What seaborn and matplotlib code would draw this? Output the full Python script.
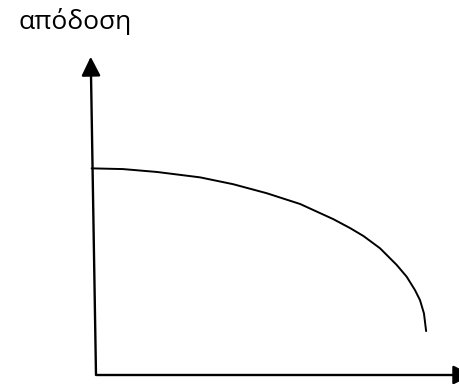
import matplotlib
matplotlib.use("Agg")
import matplotlib.pyplot as plt
import seaborn as sns
import pandas as pd

# Curve (schematic): performance vs. x, in arbitrary units
curve_x = [-0.12, 0.75, 1.69, 2.89, 3.81, 4.74, 5.67, 6.59, 7.06, 7.43, 7.89, 8.35, 8.63, 8.86, 9.00, 9.11, 9.17]
curve_y = [5.74, 5.72, 5.64, 5.49, 5.30, 5.05, 4.75, 4.33, 4.08, 3.86, 3.52, 3.06, 2.73, 2.36, 2.08, 1.71, 1.22]
y_label = "απόδοση"

sns.set_style("white")
plt.rcParams['font.family'] = ['Open Sans', 'DejaVu Sans']

fig = plt.figure(figsize=(4.6, 3.84), dpi=100)
ax = fig.add_axes([0, 0, 1, 1])
ax.set_xlim(-96 / 36, 364 / 36)
ax.set_ylim(-9 / 36, 375 / 36)
ax.axis('off')

df = pd.DataFrame({'x': curve_x, 'y': curve_y})
sns.lineplot(data=df, x='x', y='y', sort=False, color='black', lw=1.4, ax=ax,
             solid_joinstyle='round')

arrow_kw = dict(arrowstyle='-|>,head_length=0.4,head_width=0.2', mutation_scale=29,
                lw=1.7, color='black', shrinkA=0, shrinkB=0)
# y axis
ax.annotate('', xy=(-0.147, 8.84), xytext=(0, 0), arrowprops=arrow_kw)
# x axis
ax.annotate('', xy=(10.45, 0), xytext=(0.02, 0), arrowprops=arrow_kw, annotation_clip=False)

fig.text(18 / 460, 1 - 29 / 384, y_label, fontsize=19, va='baseline', ha='left', color='black')

fig.savefig('out.png', dpi=100)
